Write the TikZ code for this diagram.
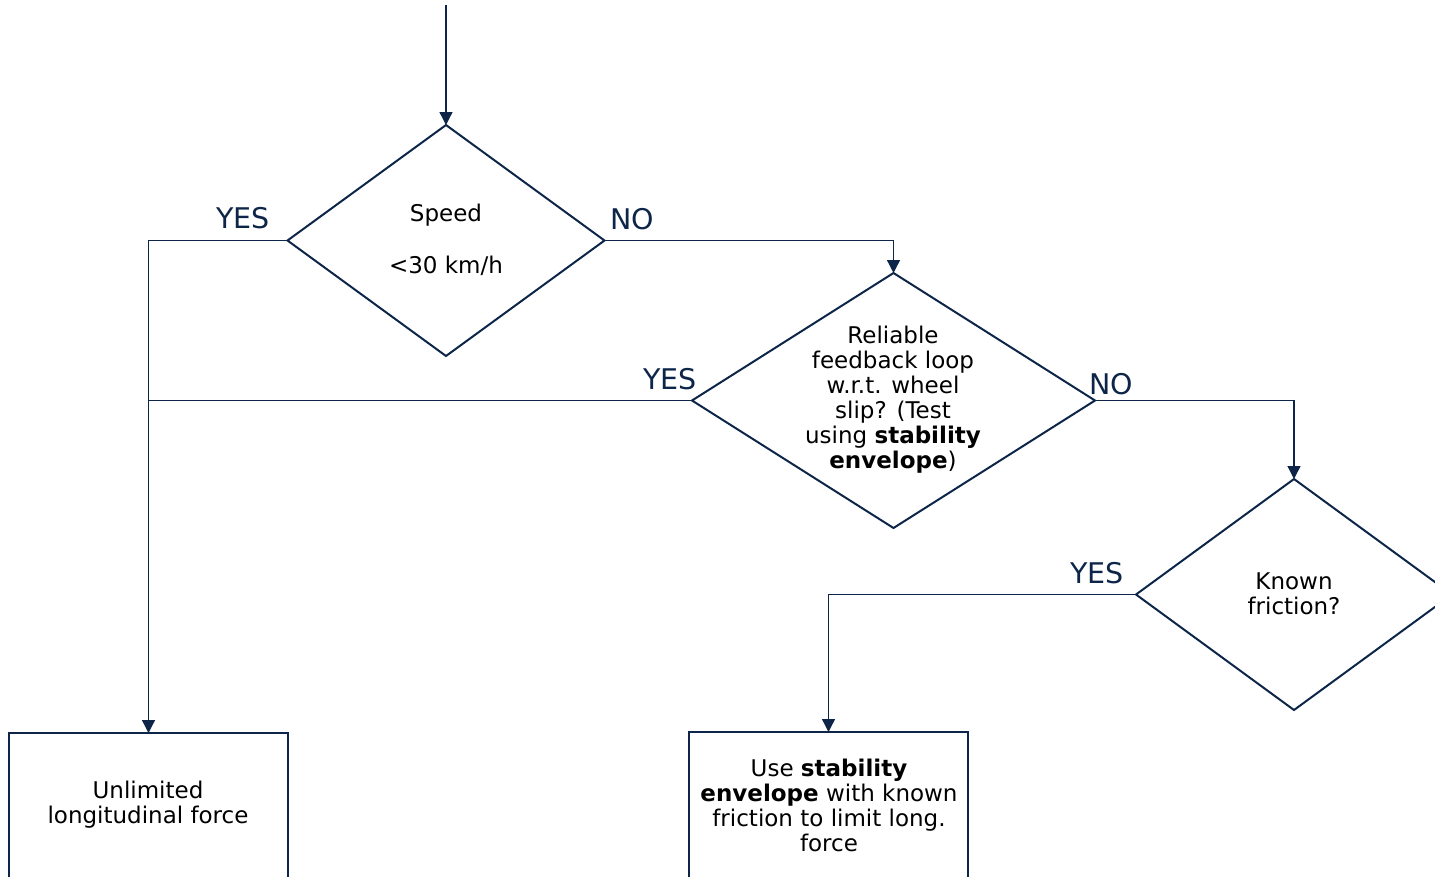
\documentclass[tikz,border=0pt]{standalone}
\usepackage{fontspec}
\setmainfont{DejaVu Sans}
\usetikzlibrary{shapes.geometric,arrows.meta}
\definecolor{navy}{RGB}{13,37,72}
\begin{document}
\begin{tikzpicture}[x=1pt,y=-1pt,
 dia/.style={draw=navy,line width=2pt,diamond,inner sep=0pt,outer sep=0pt},
 boxs/.style={draw=navy,line width=2.5pt,rectangle,inner sep=0pt,outer sep=0pt},
 txt/.style={align=center,font=\fontsize{23}{25}\selectfont,text=black,inner sep=0pt},
 lab/.style={font=\fontsize{28.5}{30}\selectfont,text=navy,inner sep=0pt},
 conn/.style={draw=navy,line width=1.3pt},
 arr/.style={conn,-{Triangle[length=13pt,width=13pt]}}]
\useasboundingbox (0,0) rectangle (1435,876);
\clip (0,0) rectangle (1435,876);
% shapes
\node[dia,minimum width=317pt,minimum height=231pt] (d1) at (446,240.5) {};
\node[dia,minimum width=403pt,minimum height=255pt] (d2) at (893.5,400.5) {};
\node[dia,minimum width=316pt,minimum height=231pt] (d3) at (1294,594.5) {};
\node[boxs,minimum width=279pt,minimum height=150pt] (b1) at (148.5,808) {};
\node[boxs,minimum width=279pt,minimum height=150pt] (b2) at (828.5,807) {};
% texts
\node[txt] (t1) at (446,239.5) {Speed\\[27pt]<30 km/h};
\node[txt] (t2) at (893,400) {Reliable\\feedback loop\\w.r.t. wheel\\slip? (Test\\using \textbf{stability}\\\textbf{envelope})};
\node[txt] (t3) at (1294,594) {Known\\friction?};
\node[txt] (t4) at (148,805) {Unlimited\\longitudinal force};
\node[txt] (t5) at (829,805) {Use \textbf{stability}\\\textbf{envelope} with known\\friction to limit long.\\force};
% labels
\node[lab] (l1) at (243,218) {YES};
\node[lab] (l2) at (632,219) {NO};
\node[lab] (l3) at (670,379) {YES};
\node[lab] (l4) at (1111,384) {NO};
\node[lab] (l5) at (1097,573) {YES};
% connectors
\coordinate (s) at (446,5);
\draw[arr] (s) -- (d1.north);
\draw[arr] (d1.east) -| (d2.north);
\draw[arr] (d1.west) -| (b1.north);
\draw[conn] (d2.west) -- (b1.north |- d2.west);
\draw[arr] (d2.east) -| (d3.north);
\draw[arr] (d3.west) -| (b2.north);
\end{tikzpicture}
\end{document}
